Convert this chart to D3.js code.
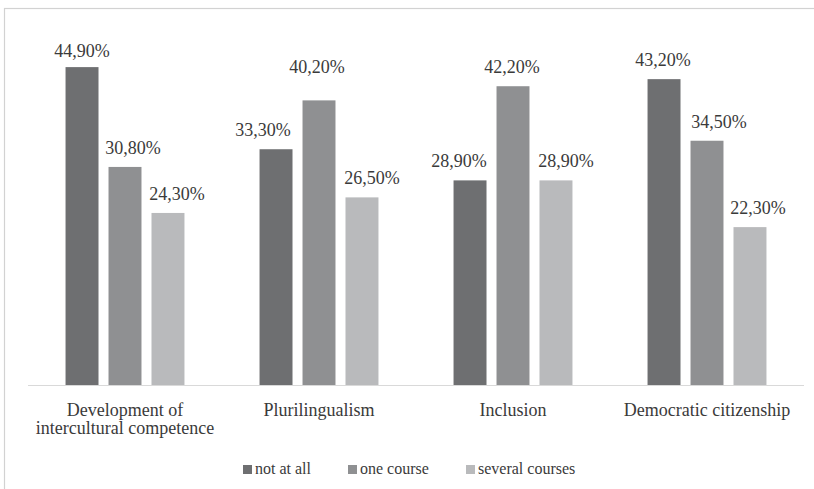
<!DOCTYPE html>
<html>
<head>
<meta charset="utf-8">
<script src="https://cdn.jsdelivr.net/npm/d3@7"></script>
<style>
  html, body { margin: 0; padding: 0; background: #fff; }
  svg { display: block; }
</style>
</head>
<body>
<svg id="chart" width="814" height="489"></svg>
<script>
// Chart data
const categories = [
  ["Development of", "intercultural competence"],
  ["Plurilingualism"],
  ["Inclusion"],
  ["Democratic citizenship"]
];
const seriesNames = ["not at all", "one course", "several courses"];
const notAtAll = [44.9, 33.3, 28.9, 43.2];
const oneCourse = [30.8, 40.2, 42.2, 34.5];
const severalCourses = [24.3, 26.5, 28.9, 22.3];
const seriesColors = ["#6e6f71", "#8f9092", "#b9babc"];

const seriesValues = [notAtAll, oneCourse, severalCourses];
const catKeys = categories.map(c => c.join(" "));

// Hand-placed value label nudges (px), per category then per series
const labelDx = [[0, 8, 9], [-13, -2, 10], [-11, -1, 10], [-1, 12, 8]];
const labelDy = [[3, 0, 0], [0, -14, 0], [0, 0, 0], [0, 0, 0]];

const FONT = "'Liberation Serif'";
const INK = "#3a3a3a";

const svg = d3.select("#chart");

// Outer frame (runs off the right and bottom edges)
svg.append("rect")
  .attr("x", 4.5).attr("y", 8.5)
  .attr("width", 820).attr("height", 500)
  .attr("fill", "none")
  .attr("stroke", "#d2d2d2")
  .attr("stroke-width", 1.2);

const plot = { left: 28, right: 804, top: 31, bottom: 385 };

const x0 = d3.scaleBand()
  .domain(catKeys)
  .range([plot.left, plot.right])
  .paddingInner(0.387)
  .paddingOuter(0.1935);

const x1 = d3.scaleBand()
  .domain(seriesNames)
  .range([0, x0.bandwidth()])
  .paddingInner(0.233)
  .paddingOuter(0);

const y = d3.scaleLinear()
  .domain([0, 50])
  .range([plot.bottom, plot.top]);

const fmt = v => v.toFixed(2).replace(".", ",") + "%";

// Bars and value labels
const groups = svg.append("g").selectAll("g")
  .data(catKeys)
  .join("g")
  .attr("transform", d => `translate(${x0(d)},0)`);

groups.each(function(cat, ci) {
  const g = d3.select(this);
  const rows = seriesNames.map((s, si) => ({ s, si, v: seriesValues[si][ci] }));
  g.selectAll("rect")
    .data(rows)
    .join("rect")
    .attr("x", d => x1(d.s))
    .attr("y", d => y(d.v))
    .attr("width", x1.bandwidth())
    .attr("height", d => y(0) - y(d.v))
    .attr("fill", d => seriesColors[d.si]);
  g.selectAll("text.val")
    .data(rows)
    .join("text")
    .attr("class", "val")
    .attr("x", d => x1(d.s) + x1.bandwidth() / 2 + labelDx[ci][d.si])
    .attr("y", d => y(d.v) - 13 + labelDy[ci][d.si])
    .attr("text-anchor", "middle")
    .style("font-family", FONT)
    .style("font-size", "18px")
    .attr("fill", INK)
    .text(d => fmt(d.v));
});

// Baseline
svg.append("line")
  .attr("x1", plot.left).attr("x2", plot.right)
  .attr("y1", plot.bottom + 0.5).attr("y2", plot.bottom + 0.5)
  .attr("stroke", "#d9d9d9")
  .attr("stroke-width", 1.2);

// Category labels
const catLabels = svg.append("g").selectAll("text")
  .data(categories)
  .join("text")
  .attr("x", (d, i) => x0(catKeys[i]) + x0.bandwidth() / 2)
  .attr("y", 416)
  .attr("text-anchor", "middle")
  .style("font-family", FONT)
  .style("font-size", "18px")
  .attr("fill", INK);
catLabels.selectAll("tspan")
  .data(d => d)
  .join("tspan")
  .attr("x", function() { return d3.select(this.parentNode).attr("x"); })
  .attr("dy", (d, i) => i === 0 ? 0 : 18)
  .text(d => d);

// Legend
const legendX = [243, 348, 466];
const legend = svg.append("g").selectAll("g")
  .data(seriesNames)
  .join("g")
  .attr("transform", (d, i) => `translate(${legendX[i]},0)`);
legend.append("rect")
  .attr("x", 0).attr("y", 465)
  .attr("width", 9).attr("height", 9)
  .attr("fill", (d, i) => seriesColors[i]);
legend.append("text")
  .attr("x", 12).attr("y", 474)
  .style("font-family", FONT)
  .style("font-size", "16px")
  .attr("fill", INK)
  .text(d => d);
</script>
</body>
</html>
